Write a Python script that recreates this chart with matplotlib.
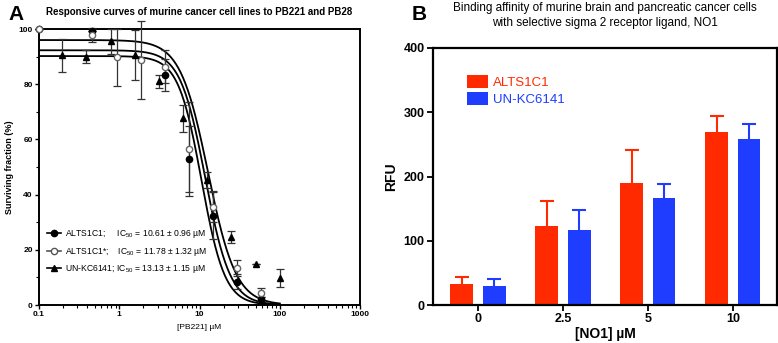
import numpy as np
import matplotlib.pyplot as plt
from matplotlib.lines import Line2D

plt.rcParams['font.family'] = ['Liberation Sans', 'DejaVu Sans']
plt.rcParams['mathtext.default'] = 'regular'

# ---- panel A data ----
alt_x = [0.1, 0.46, 3.7, 7.4, 14.8, 29.6, 59.2]
alt_y = [100, 99.3, 83.3, 52.9, 32.4, 8.5, 2.1]
alt_err = [0, 0, 5.8, 12, 8.5, 2.8, 0.8]

alt2_x = [0.1, 0.46, 0.93, 1.85, 3.7, 7.4, 14.8, 29.6, 59.2]
alt2_y = [100, 97.8, 89.7, 88.8, 86.3, 56.5, 35.6, 13.4, 4.5]
alt2_err = [0, 2.5, 10.3, 14, 6, 17, 5.7, 3.0, 1.5]

kc_x = [0.195, 0.39, 0.78, 1.56, 3.125, 6.25, 12.5, 25, 50, 100]
kc_y = [90.5, 90, 95.5, 90.5, 81, 67.6, 45.3, 24.7, 14.9, 9.7]
kc_err = [6, 2.3, 4.5, 9, 2.4, 5, 2.9, 2.1, 0, 3.2]

# fitted curve params: top, midpoint, hill slope
fit_top = [90.2, 92.3, 96.0]
fit_mid = [10.61, 11.78, 12.8]
fit_hill = [3.0, 2.8, 2.5]

labels_a = ["ALTS1C1;     IC$_{50}$ = 10.61 \u00b1 0.96 \u00b5M",
            "ALTS1C1*;    IC$_{50}$ = 11.78 \u00b1 1.32 \u00b5M",
            "UN-KC6141; IC$_{50}$ = 13.13 \u00b1 1.15 \u00b5M"]

# ---- panel B data ----
conc = ["0", "2.5", "5", "10"]
red_val = [33, 123, 190, 270]
red_err = [10, 39, 51, 24]
blue_val = [30, 116, 166, 258]
blue_err = [10, 32, 22, 23]

red = "#ff2a00"
blue = "#1f3dff"

fig = plt.figure(figsize=(7.78, 3.43), dpi=100)

# ---------------- Panel A ----------------
ax = fig.add_axes([39/778, 38/343, 321/778, 276/343])
ax.set_xscale('log')
ax.set_xlim(0.1, 1000)
ax.set_ylim(0, 100)

xs = np.logspace(-1, 2, 300)
for t, c, h in zip(fit_top, fit_mid, fit_hill):
    ax.plot(xs, t / (1 + (xs / c) ** h), color='black', lw=1.3, zorder=2)

eb = dict(color='black', ecolor='#333333', elinewidth=0.9, capsize=3, capthick=0.9,
          ls='none', ms=4.5, clip_on=False, zorder=3)
ax.errorbar(alt_x, alt_y, yerr=alt_err, marker='o', mfc='black', mec='black', **eb)
ax.errorbar(alt2_x, alt2_y, yerr=alt2_err, marker='o', mfc='white', mec='#666666', **eb)
ax.errorbar(kc_x, kc_y, yerr=kc_err, marker='^', mfc='black', mec='black', **eb)

for s in ax.spines.values():
    s.set_linewidth(1.4)
ax.set_xticks([0.1, 1, 10, 100, 1000])
ax.set_xticklabels(["0.1", "1", "10", "100", "1000"])
ax.set_yticks([0, 20, 40, 60, 80, 100])
ax.set_yticks([10, 30, 50, 70, 90], minor=True)
ax.tick_params(which='major', length=3, width=1, labelsize=6, pad=1.5)
ax.tick_params(which='minor', length=2, width=0.8)
for lab in ax.get_xticklabels() + ax.get_yticklabels():
    lab.set_fontweight('bold')
ax.set_xlabel("[PB221] \u00b5M", fontsize=6, labelpad=4)
ax.set_ylabel("Surviving fraction (%)", fontsize=6.5, fontweight='bold', labelpad=3)
ax.set_title("Responsive curves of murine cancer cell lines to PB221 and PB28",
             fontsize=7, fontweight='bold', pad=10)

handles = [Line2D([], [], color='black', marker='o', mfc='black', ms=4.5, lw=1.2),
           Line2D([], [], color='#555555', marker='o', mfc='white', ms=4.5, lw=1.2),
           Line2D([], [], color='black', marker='^', mfc='black', ms=4.5, lw=1.2)]
ax.legend(handles, labels_a, loc='upper left', bbox_to_anchor=(0.0, 0.31),
          frameon=False, fontsize=6.2, handlelength=1.6, labelspacing=0.55,
          handletextpad=0.5)

fig.text(8/778, 1 - 15/343, "A", fontsize=15, fontweight='bold', va='center')

# ---------------- Panel B ----------------
bx = fig.add_axes([433/778, 38/343, 344/778, 257/343])
pos = np.arange(len(conc))
w = 0.27
# symmetric error bars drawn under the bars, so only the upper half shows
bx.errorbar(pos - 0.19, red_val, yerr=red_err, ls='none', ecolor=red,
            elinewidth=1.5, capsize=5, capthick=1.5, zorder=1)
bx.errorbar(pos + 0.19, blue_val, yerr=blue_err, ls='none', ecolor=blue,
            elinewidth=1.5, capsize=5, capthick=1.5, zorder=1)
bx.bar(pos - 0.19, red_val, w, color=red, label="ALTS1C1", zorder=2)
bx.bar(pos + 0.19, blue_val, w, color=blue, label="UN-KC6141", zorder=2)
bx.set_xlim(-0.53, 3.52)
bx.set_ylim(0, 400)
bx.set_xticks(pos)
bx.set_xticklabels(conc)
bx.set_yticks([0, 100, 200, 300, 400])
for s in bx.spines.values():
    s.set_linewidth(1.6)
    s.set_zorder(3)
bx.tick_params(length=4, width=1.3, labelsize=9, pad=2)
for lab in bx.get_xticklabels() + bx.get_yticklabels():
    lab.set_fontweight('bold')
bx.set_xlabel("[NO1] \u00b5M", fontsize=10, fontweight='bold', labelpad=1)
bx.set_ylabel("RFU", fontsize=10, fontweight='bold', labelpad=4)
bx.set_title("Binding affinity of murine brain and pancreatic cancer cells\n"
             "with selective sigma 2 receptor ligand, NO1",
             fontsize=8.5, pad=16, linespacing=1.3)
leg = bx.legend(loc='upper left', bbox_to_anchor=(0.065, 0.94), frameon=False,
                fontsize=9.5, handlelength=1.6, handleheight=1.1,
                labelspacing=0.25, handletextpad=0.35)
for txt, col in zip(leg.get_texts(), [red, blue]):
    txt.set_color(col)

fig.text(412/778, 1 - 15/343, "B", fontsize=15, fontweight='bold', va='center')

fig.savefig("out.png", dpi=100)
